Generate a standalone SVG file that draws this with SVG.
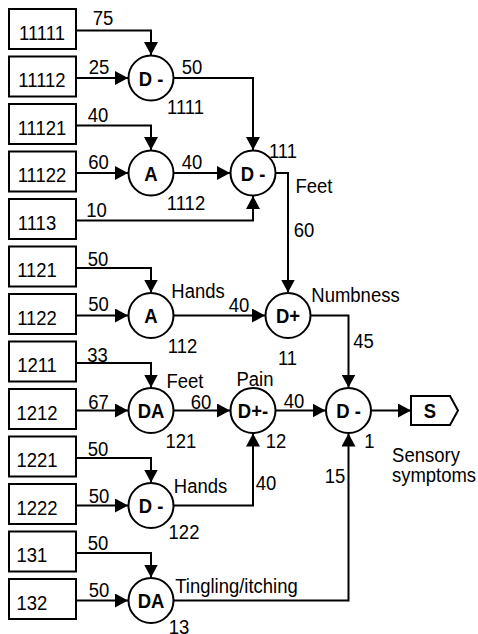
<svg xmlns="http://www.w3.org/2000/svg" width="478" height="634" viewBox="0 0 478 634">
<style>
text{font-family:"Liberation Sans",Arial,sans-serif;font-size:21px;fill:#000;text-anchor:middle;transform-box:fill-box;transform-origin:center;transform:scaleX(0.88)}
.b rect{fill:#fff;stroke:#000;stroke-width:2}
.n circle{fill:#fff;stroke:#000;stroke-width:2}
.n text{font-weight:bold}
.c path{fill:none;stroke:#000;stroke-width:2}
</style>
<defs>
<marker id="ah" markerUnits="userSpaceOnUse" markerWidth="14" markerHeight="14" refX="13" refY="7" orient="auto">
<path d="M0,0 L13,7 L0,14 z" fill="#000"/>
</marker>
</defs>
<g class="c" marker-end="url(#ah)">
<path d="M76,30.5 H151 V55"/>
<path d="M76,78 H128"/>
<path d="M173.5,78 H253 V150"/>
<path d="M76,125.5 H151 V150"/>
<path d="M76,173 H128"/>
<path d="M173.5,173 H230"/>
<path d="M74,220.5 H253 V196"/>
<path d="M275.5,173 H288 V292.5"/>
<path d="M76,268 H151 V292.5"/>
<path d="M76,315.5 H128"/>
<path d="M173.5,315.5 H265"/>
<path d="M310.5,315.5 H348.5 V387.5"/>
<path d="M76,363 H151 V387.5"/>
<path d="M76,410.5 H128"/>
<path d="M173.5,410.5 H230"/>
<path d="M275.5,410.5 H325.5"/>
<path d="M371,410.5 H411"/>
<path d="M76,458 H151 V482.5"/>
<path d="M76,505.5 H128"/>
<path d="M173.5,505.5 H253 V433.5"/>
<path d="M76,553 H151 V577.5"/>
<path d="M76,600.5 H128"/>
<path d="M173.5,600.5 H348.5 V433.5"/>
</g>
<g class="b">
<g id="b11111"><rect x="9" y="9" width="67" height="40"/><text x="42" y="40">11111</text></g>
<g id="b11112"><rect x="9" y="56.5" width="67" height="40"/><text x="42" y="87.5">11112</text></g>
<g id="b11121"><rect x="9" y="104" width="67" height="40"/><text x="42" y="135">11121</text></g>
<g id="b11122"><rect x="9" y="151.5" width="67" height="40"/><text x="42" y="182.5">11122</text></g>
<g id="b1113"><rect x="9" y="199" width="67" height="40"/><text x="37" y="230">1113</text></g>
<g id="b1121"><rect x="9" y="246.5" width="67" height="40"/><text x="37" y="277.5">1121</text></g>
<g id="b1122"><rect x="9" y="294" width="67" height="40"/><text x="37" y="325">1122</text></g>
<g id="b1211"><rect x="9" y="341.5" width="67" height="40"/><text x="37" y="372.5">1211</text></g>
<g id="b1212"><rect x="9" y="389" width="67" height="40"/><text x="37" y="420">1212</text></g>
<g id="b1221"><rect x="9" y="436.5" width="67" height="40"/><text x="37" y="467.5">1221</text></g>
<g id="b1222"><rect x="9" y="484" width="67" height="40"/><text x="37" y="515">1222</text></g>
<g id="b131"><rect x="9" y="531.5" width="67" height="40"/><text x="32" y="562.5">131</text></g>
<g id="b132"><rect x="9" y="579" width="67" height="40"/><text x="32" y="610">132</text></g>
</g>
<g class="n">
<g id="n1111"><circle cx="151" cy="78" r="22.5"/><text x="151" y="86">D -</text></g>
<g id="n1112"><circle cx="151" cy="173" r="22.5"/><text x="151" y="181">A</text></g>
<g id="n111"><circle cx="253" cy="173" r="22.5"/><text x="253" y="181">D -</text></g>
<g id="n112"><circle cx="151" cy="315.5" r="22.5"/><text x="151" y="323.5">A</text></g>
<g id="n11"><circle cx="288" cy="315.5" r="22.5"/><text x="288" y="323.5">D+</text></g>
<g id="n121"><circle cx="151" cy="410.5" r="22.5"/><text x="151" y="418.5">DA</text></g>
<g id="n12"><circle cx="253" cy="410.5" r="22.5"/><text x="253" y="418.5">D+-</text></g>
<g id="n1"><circle cx="348.5" cy="410.5" r="22.5"/><text x="348.5" y="418.5">D -</text></g>
<g id="n122"><circle cx="151" cy="505.5" r="22.5"/><text x="151" y="513.5">D -</text></g>
<g id="n13"><circle cx="151" cy="600.5" r="22.5"/><text x="151" y="608.5">DA</text></g>
<g id="nS"><path d="M411,396 H450 L458,410.5 L450,425 H411 Z" fill="#fff" stroke="#000" stroke-width="2"/><text x="430" y="418.5">S</text></g>
</g>
<g class="l">
<text x="103" y="25">75</text>
<text x="99" y="74">25</text>
<text x="192" y="74">50</text>
<text x="185.5" y="114">1111</text>
<text x="98" y="122">40</text>
<text x="98.5" y="169">60</text>
<text x="192" y="169">40</text>
<text x="186" y="210">1112</text>
<text x="96.5" y="217">10</text>
<text x="283" y="158">111</text>
<text x="314" y="193">Feet</text>
<text x="304" y="237">60</text>
<text x="98" y="266">50</text>
<text x="98.5" y="311">50</text>
<text x="198" y="298">Hands</text>
<text x="239" y="312">40</text>
<text x="355.5" y="302">Numbness</text>
<text x="182.5" y="353">112</text>
<text x="363.5" y="348">45</text>
<text x="287.5" y="365">11</text>
<text x="97.5" y="362">33</text>
<text x="185" y="388">Feet</text>
<text x="98.5" y="409">67</text>
<text x="201" y="409">60</text>
<text x="181" y="448">121</text>
<text x="255" y="386">Pain</text>
<text x="294" y="408">40</text>
<text x="276" y="448">12</text>
<text x="369.5" y="448">1</text>
<text x="98" y="456">50</text>
<text x="99" y="503">50</text>
<text x="200.5" y="493">Hands</text>
<text x="266" y="490">40</text>
<text x="184" y="539">122</text>
<text x="98" y="550">50</text>
<text x="99" y="597">50</text>
<text x="236.5" y="593">Tingling/itching</text>
<text x="179" y="634">13</text>
<text x="335" y="483">15</text>
<text x="426" y="462">Sensory</text>
<text x="434" y="482">symptoms</text>
</g>
</svg>
